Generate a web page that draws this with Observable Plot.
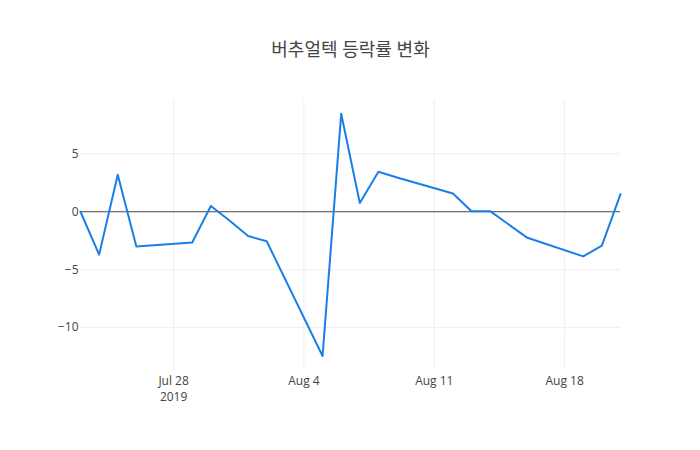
<!DOCTYPE html>
<html>
<head>
<meta charset="utf-8">
<script src="https://cdn.jsdelivr.net/npm/d3@7"></script>
<script src="https://cdn.jsdelivr.net/npm/@observablehq/plot@0.6"></script>
<style>
  html, body { margin: 0; padding: 0; background: #fff; }
</style>
</head>
<body>
<div id="chart"></div>
<script>
const title = "버추얼텍 등락률 변화";
const dates = [
  "2019-07-23","2019-07-24","2019-07-25","2019-07-26","2019-07-29","2019-07-30","2019-07-31",
  "2019-08-01","2019-08-02","2019-08-05","2019-08-06","2019-08-07","2019-08-08","2019-08-09",
  "2019-08-12","2019-08-13","2019-08-14","2019-08-16","2019-08-19","2019-08-20","2019-08-21"
];
const changes = [
  0.0, -3.7, 3.2, -3.0, -2.65, 0.5, -0.75,
  -2.1, -2.55, -12.45, 8.45, 0.75, 3.45, 2.95,
  1.58, 0.05, 0.05, -2.25, -3.85, -2.93, 1.52
];
const xTicks = ["2019-07-28","2019-08-04","2019-08-11","2019-08-18"];
const xTickLabels = ["Jul 28\n2019","Aug 4","Aug 11","Aug 18"];
const yTicks = [-10, -5, 0, 5];
const yGrid = [-10, -5, 5];

const parse = d3.utcParse("%Y-%m-%d");
const data = dates.map((d, i) => ({date: parse(d), value: changes[i]}));
const tickDates = xTicks.map(parse);
const labelMap = new Map(tickDates.map((d, i) => [+d, xTickLabels[i]]));
const font = "'Open Sans', 'Noto Sans CJK KR', sans-serif";

const chart = Plot.plot({
  width: 700,
  height: 450,
  marginTop: 100,
  marginBottom: 80,
  marginLeft: 80,
  marginRight: 80,
  style: {fontFamily: font, color: "#444", background: "#fff"},
  x: {type: "utc", domain: [data[0].date, data[data.length - 1].date]},
  y: {domain: [-13.7, 9.6]},
  marks: [
    Plot.gridX(tickDates, {stroke: "#eee", strokeOpacity: 1}),
    Plot.gridY(yGrid, {stroke: "#eee", strokeOpacity: 1}),
    Plot.ruleY([0], {stroke: "#444", strokeWidth: 1}),
    Plot.axisX({ticks: tickDates, tickSize: 0, tickPadding: 3, fontSize: 12, fill: "#444",
      lineHeight: 1.35, tickFormat: d => labelMap.get(+d), label: null}),
    Plot.axisY({ticks: yTicks, tickSize: 0, tickPadding: 2, fontSize: 12, fill: "#444",
      tickFormat: d => d < 0 ? "\u2212" + Math.abs(d) : String(d), label: null}),
    Plot.line(data, {x: "date", y: "value", stroke: "#1a7ee8", strokeWidth: 2}),
    Plot.text([title], {frameAnchor: "top", dy: -57, fontSize: 18, fill: "#444", fontFamily: font})
  ]
});
document.getElementById("chart").appendChild(chart);
</script>
</body>
</html>
